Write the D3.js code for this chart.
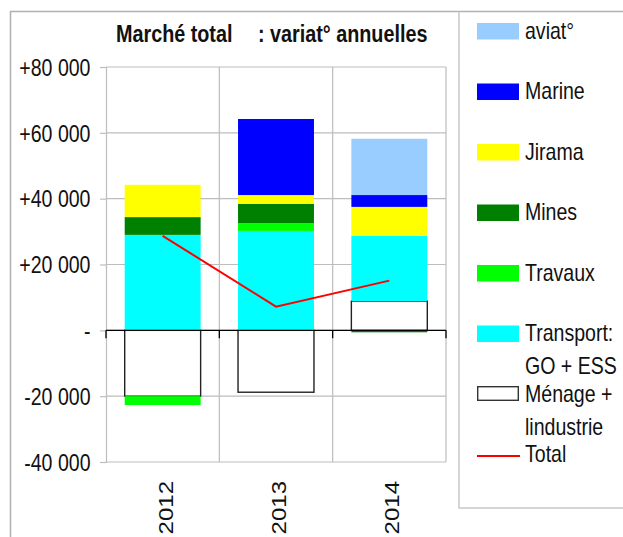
<!DOCTYPE html>
<html>
<head>
<meta charset="utf-8">
<script src="https://cdn.jsdelivr.net/npm/d3@7"></script>
<style>
  body { margin: 0; background: #fff; }
  svg { display: block; font-family: "Liberation Sans", Arial, sans-serif; }
</style>
</head>
<body>
<svg id="chart" width="623" height="537"></svg>
<script>
// data
const years = ["2012", "2013", "2014"];
const menage = [-20000, -18800, 8900];
const transport = [29000, 30200, 19800];
const travaux = [-2700, 2400, 0];
const mines = [5400, 5800, -600];
const jirama = [9800, 2700, 8800];
const marine = [0, 23100, 3600];
const aviat = [0, 0, 17100];
const total = [28700, 7200, 15100];

const yTicks = [-40000, -20000, 0, 20000, 40000, 60000, 80000];
const seriesKeys = ["menage", "transport", "travaux", "mines", "jirama", "marine", "aviat"];
const seriesColours = {
  menage: "#fff",
  transport: "#00ffff",
  travaux: "#00ff00",
  mines: "#008000",
  jirama: "#ffff00",
  marine: "#0000ff",
  aviat: "#99ccff"
};
// legend, top to bottom
const legendKeys = ["aviat", "marine", "jirama", "mines", "travaux", "transport", "menage", "total"];
const legendLabels = [["aviat°"], ["Marine"], ["Jirama"], ["Mines"], ["Travaux"],
  ["Transport:", "GO + ESS"], ["Ménage +", "lindustrie"], ["Total"]];

const squeeze = 0.85; // the whole picture is a bit narrow
const grey = "#bdbdbd";
const fontSize = 23;

const rows = years.map((y, i) => ({
  year: y, menage: menage[i], transport: transport[i], travaux: travaux[i],
  mines: mines[i], jirama: jirama[i], marine: marine[i], aviat: aviat[i]
}));

const svg = d3.select("#chart");
const plot = { left: 106, right: 446, top: 67, bottom: 462 };

const x = d3.scaleBand().domain(years).range([plot.left, plot.right]).padding(0);
const y = d3.scaleLinear().domain([-40000, 80000]).range([plot.bottom, plot.top]);
const barW = x.bandwidth() * 0.67;
const barOff = (x.bandwidth() - barW) / 2;

// outer frames
svg.append("path")
  .attr("d", "M10.5,537V11.5H623")
  .attr("fill", "none").attr("stroke", "#b0b0b0").attr("stroke-width", 1.5);
svg.append("path")
  .attr("d", "M459,11.5V508H623")
  .attr("fill", "none").attr("stroke", "#c8c8c8").attr("stroke-width", 1.5);

// title
const title = svg.append("g").attr("font-weight", "bold").attr("font-size", 23).attr("fill", "#111");
title.append("text").attr("transform", `translate(116,41.5) scale(0.86,1)`).text("Marché total");
title.append("text").attr("transform", `translate(258,41.5) scale(0.86,1)`).text(": variat° annuelles");

// grid
const grid = svg.append("g");
grid.selectAll("line.h")
  .data(yTicks)
  .join("line")
  .attr("class", "h")
  .attr("x1", plot.left).attr("x2", plot.right)
  .attr("y1", d => y(d)).attr("y2", d => y(d))
  .attr("stroke", grey).attr("stroke-width", 1.2);
grid.selectAll("line.v")
  .data(years)
  .join("line")
  .attr("class", "v")
  .attr("x1", d => x(d) + x.bandwidth()).attr("x2", d => x(d) + x.bandwidth())
  .attr("y1", plot.top).attr("y2", plot.bottom)
  .attr("stroke", grey).attr("stroke-width", 1.2);

// y axis
const yAxis = svg.append("g")
  .attr("transform", `translate(${plot.left},0)`)
  .call(d3.axisLeft(y).tickValues(yTicks).tickSize(6).tickPadding(0)
    .tickFormat(d => d === 0 ? "-" : (d > 0 ? "+" : "-") + d3.format(",")(Math.abs(d)).replace(/,/g, " ")));
yAxis.attr("font-size", fontSize).attr("font-family", null);
yAxis.select(".domain").attr("stroke", grey).attr("stroke-width", 1.2);
yAxis.selectAll(".tick line").attr("stroke", grey).attr("stroke-width", 1.2);
yAxis.selectAll(".tick text")
  .attr("fill", "#111")
  .attr("x", -15.5 / squeeze)
  .attr("dy", "0.36em")
  .attr("transform", `scale(${squeeze},1)`);

// bars
const stacked = d3.stack().keys(seriesKeys).offset(d3.stackOffsetDiverging)(rows);
svg.append("g")
  .selectAll("g")
  .data(stacked)
  .join("g")
  .attr("fill", d => seriesColours[d.key])
  .attr("stroke", d => d.key === "menage" ? "#222" : "none")
  .attr("stroke-width", 1.4)
  .selectAll("rect")
  .data(d => d.filter(s => s[1] !== s[0]))
  .join("rect")
  .attr("x", d => x(d.data.year) + barOff)
  .attr("width", barW)
  .attr("y", d => y(Math.max(d[0], d[1])))
  .attr("height", d => Math.abs(y(d[0]) - y(d[1])));

// x axis on zero, ticks between categories
const xAxis = svg.append("g").attr("transform", `translate(0,${y(0)})`);
xAxis.append("line")
  .attr("x1", plot.left).attr("x2", plot.right)
  .attr("stroke", "#000").attr("stroke-width", 1.2);
xAxis.selectAll("line.tk")
  .data([years[0]].concat(years))
  .join("line")
  .attr("class", "tk")
  .attr("x1", (d, i) => i === 0 ? x(d) : x(d) + x.bandwidth())
  .attr("x2", (d, i) => i === 0 ? x(d) : x(d) + x.bandwidth())
  .attr("y1", 0).attr("y2", 8)
  .attr("stroke", "#000").attr("stroke-width", 1.3);

// year labels
svg.append("g")
  .selectAll("text")
  .data(years)
  .join("text")
  .attr("font-size", 24)
  .attr("fill", "#111")
  .attr("text-anchor", "end")
  .attr("transform", d => `translate(${x(d) + x.bandwidth() / 2 + 10},481) scale(${squeeze},1) rotate(-90)`)
  .text(d => d);

// total line
svg.append("path")
  .datum(total)
  .attr("fill", "none")
  .attr("stroke", "#ff0000")
  .attr("stroke-width", 2)
  .attr("d", d3.line().x((d, i) => x(years[i]) + x.bandwidth() / 2).y(d => y(d)));

// legend
const legendY = d3.scaleLinear().domain([0, legendKeys.length - 1]).range([38.5, 462]);
const legend = svg.append("g")
  .selectAll("g")
  .data(legendKeys)
  .join("g")
  .attr("transform", (d, i) => `translate(477,${legendY(i)})`);
legend.filter(d => d !== "total")
  .append("rect")
  .attr("x", d => d === "menage" ? 0.7 : 0)
  .attr("y", d => d === "menage" ? -14.8 : -15.5)
  .attr("width", d => d === "menage" ? 40.6 : 42)
  .attr("height", d => d === "menage" ? 13.6 : 16.5)
  .attr("fill", d => seriesColours[d])
  .attr("stroke", d => d === "menage" ? "#333" : "none")
  .attr("stroke-width", 1.4);
legend.filter(d => d === "total")
  .append("line")
  .attr("x1", 0).attr("x2", 43).attr("y1", -6).attr("y2", -6)
  .attr("stroke", "#ff0000").attr("stroke-width", 2);
legend.each(function (d, i) {
  d3.select(this).selectAll("text")
    .data(legendLabels[i])
    .join("text")
    .attr("font-size", fontSize)
    .attr("fill", "#111")
    .attr("transform", (t, j) => `translate(48,${j * 33}) scale(${squeeze},1)`)
    .text(t => t);
});
</script>
</body>
</html>
